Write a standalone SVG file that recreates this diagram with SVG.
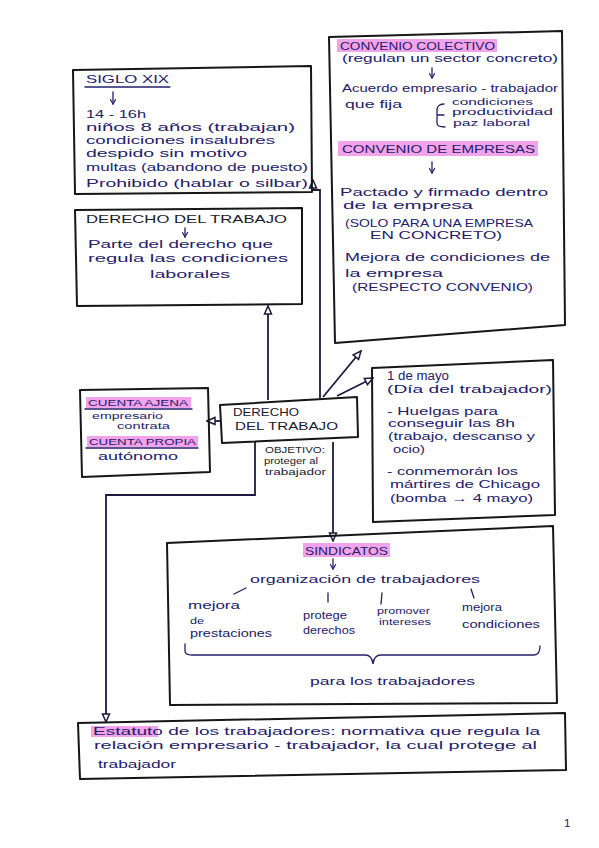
<svg xmlns="http://www.w3.org/2000/svg" width="599" height="848" viewBox="0 0 599 848">
<style>
.bg{fill:#ffffff}
.box{fill:none;stroke:#161616;stroke-width:2;stroke-linejoin:round}
.t{font-family:'Liberation Sans',Arial,sans-serif;fill:#23206a;font-size:11.5px}
.k{fill:#1a1a2e}
.s{font-size:9.5px}
.hl{fill:#f3a3ea}
.ln{fill:none;stroke:#23206a;stroke-width:1.3;stroke-linecap:round}
.cn{fill:none;stroke:#1b1b40;stroke-width:1.8}
</style>
<defs>
<marker id="arr" viewBox="0 0 10 10" refX="9" refY="5" markerWidth="10" markerHeight="10" markerUnits="userSpaceOnUse" orient="auto">
<path d="M1,1.5 L9,5 L1,8.5 Z" fill="#fff" stroke="#1b1b40" stroke-width="1.5"/>
</marker>
<marker id="sarr" viewBox="0 0 10 10" refX="8" refY="5" markerWidth="7" markerHeight="7" markerUnits="userSpaceOnUse" orient="auto">
<path d="M1,1 L8,5 L1,9" fill="none" stroke="#23206a" stroke-width="1.6"/>
</marker>
</defs>
<rect class="bg" x="0" y="0" width="599" height="848"/>

<g id="connectors">
<path class="cn" d="M320,398 V190 H313 V180" marker-end="url(#arr)"/>
<path class="cn" d="M268,400 V306" marker-end="url(#arr)"/>
<path class="cn" d="M323,397 L361,351" marker-end="url(#arr)"/>
<path class="cn" d="M337,396 L373,378" marker-end="url(#arr)"/>
<path class="cn" d="M220,421 H207" marker-end="url(#arr)"/>
<path class="cn" d="M333,442 V541" marker-end="url(#arr)"/>
<path class="cn" d="M255,442 V495 H106 V722" marker-end="url(#arr)"/>
</g>

<g id="siglo-xix">
<polygon class="box" points="73,70 311,66 312,192 75,194"/>
<text class="t" x="86" y="83" textLength="83" lengthAdjust="spacingAndGlyphs">SIGLO XIX</text>
<line class="ln" x1="85" y1="87" x2="170" y2="87"/>
<line class="ln" x1="113" y1="92" x2="113" y2="104" marker-end="url(#sarr)"/>
<text class="t" x="86" y="118" textLength="60" lengthAdjust="spacingAndGlyphs">14 - 16h</text>
<text class="t" x="86" y="131" textLength="209" lengthAdjust="spacingAndGlyphs">niños 8 años (trabajan)</text>
<text class="t" x="86" y="144" textLength="189" lengthAdjust="spacingAndGlyphs">condiciones insalubres</text>
<text class="t" x="86" y="157" textLength="161" lengthAdjust="spacingAndGlyphs">despido sin motivo</text>
<text class="t" x="86" y="171" textLength="222" lengthAdjust="spacingAndGlyphs">multas (abandono de puesto)</text>
<text class="t" x="86" y="187" textLength="222" lengthAdjust="spacingAndGlyphs">Prohibido (hablar o silbar)</text>
</g>

<g id="derecho-definicion">
<polygon class="box" points="75,210 302,208 302,304 77,306"/>
<text class="t k" x="86" y="223" textLength="201" lengthAdjust="spacingAndGlyphs">DERECHO DEL TRABAJO</text>
<line class="ln" x1="185" y1="228" x2="185" y2="237" marker-end="url(#sarr)"/>
<text class="t" x="88" y="248" textLength="185" lengthAdjust="spacingAndGlyphs">Parte del derecho que</text>
<text class="t" x="88" y="262" textLength="200" lengthAdjust="spacingAndGlyphs">regula las condiciones</text>
<text class="t" x="150" y="278" textLength="80" lengthAdjust="spacingAndGlyphs">laborales</text>
</g>

<g id="convenio">
<polygon class="box" points="329,37 562,31 565,325 335,343"/>
<rect class="hl" x="337" y="39" width="160" height="13"/>
<text class="t" x="340" y="50" textLength="155" lengthAdjust="spacingAndGlyphs">CONVENIO COLECTIVO</text>
<text class="t" x="342" y="62" textLength="216" lengthAdjust="spacingAndGlyphs">(regulan un sector concreto)</text>
<line class="ln" x1="432" y1="68" x2="432" y2="78" marker-end="url(#sarr)"/>
<text class="t" x="342" y="92" textLength="216" lengthAdjust="spacingAndGlyphs">Acuerdo empresario - trabajador</text>
<text class="t" x="345" y="108" textLength="57" lengthAdjust="spacingAndGlyphs">que fija</text>
<path class="ln" d="M444,104 C438,104 437,107 437,111 L437,123 C437,126 439,127 445,127 M437,115 L444,115"/>
<text class="t s" x="452" y="105" textLength="81" lengthAdjust="spacingAndGlyphs">condiciones</text>
<text class="t s" x="452" y="115" textLength="101" lengthAdjust="spacingAndGlyphs">productividad</text>
<text class="t s" x="453" y="126" textLength="77" lengthAdjust="spacingAndGlyphs">paz laboral</text>
<rect class="hl" x="338" y="141" width="200" height="15"/>
<text class="t" x="342" y="153" textLength="193" lengthAdjust="spacingAndGlyphs">CONVENIO DE EMPRESAS</text>
<line class="ln" x1="432" y1="162" x2="432" y2="173" marker-end="url(#sarr)"/>
<text class="t" x="340" y="196" textLength="208" lengthAdjust="spacingAndGlyphs">Pactado y firmado dentro</text>
<text class="t" x="343" y="209" textLength="130" lengthAdjust="spacingAndGlyphs">de la empresa</text>
<text class="t" x="345" y="227" textLength="188" lengthAdjust="spacingAndGlyphs">(SOLO PARA UNA EMPRESA</text>
<text class="t" x="370" y="239" textLength="132" lengthAdjust="spacingAndGlyphs">EN CONCRETO)</text>
<text class="t" x="345" y="261" textLength="205" lengthAdjust="spacingAndGlyphs">Mejora de condiciones de</text>
<text class="t" x="345" y="277" textLength="98" lengthAdjust="spacingAndGlyphs">la empresa</text>
<text class="t" x="352" y="291" textLength="181" lengthAdjust="spacingAndGlyphs">(RESPECTO CONVENIO)</text>
</g>

<g id="cuenta">
<polygon class="box" points="80,390 208,388 210,472 82,477"/>
<rect class="hl" x="86" y="397" width="105" height="11"/>
<text class="t s" x="88" y="406" textLength="100" lengthAdjust="spacingAndGlyphs">CUENTA AJENA</text>
<line class="ln" x1="85" y1="409" x2="192" y2="409"/>
<text class="t" style="font-size:8.5px" x="92" y="419" textLength="71" lengthAdjust="spacingAndGlyphs">empresario</text>
<text class="t" style="font-size:8.5px" x="117" y="429" textLength="53" lengthAdjust="spacingAndGlyphs">contrata</text>
<rect class="hl" x="87" y="436" width="111" height="11"/>
<text class="t s" x="89" y="445" textLength="107" lengthAdjust="spacingAndGlyphs">CUENTA PROPIA</text>
<line class="ln" x1="86" y1="448" x2="198" y2="448"/>
<text class="t" x="98" y="460" textLength="80" lengthAdjust="spacingAndGlyphs">autónomo</text>
</g>

<g id="derecho-trabajo">
<polygon class="box" points="220,405 357,397 358,437 222,443" fill="#fff"/>
<text class="t k" x="233" y="416" textLength="66" lengthAdjust="spacingAndGlyphs">DERECHO</text>
<text class="t k" x="235" y="430" textLength="103" lengthAdjust="spacingAndGlyphs">DEL TRABAJO</text>
<text class="t k s" x="265" y="453" textLength="60" lengthAdjust="spacingAndGlyphs">OBJETIVO:</text>
<text class="t k s" x="264" y="464" textLength="54" lengthAdjust="spacingAndGlyphs">proteger al</text>
<text class="t k s" x="265" y="475" textLength="61" lengthAdjust="spacingAndGlyphs">trabajador</text>
</g>

<g id="primero-mayo">
<polygon class="box" points="372,368 553,360 555,515 373,522"/>
<text class="t" style="font-size:12.5px" x="387" y="380" textLength="62" lengthAdjust="spacingAndGlyphs">1 de mayo</text>
<text class="t" x="387" y="393" textLength="165" lengthAdjust="spacingAndGlyphs">(Día del trabajador)</text>
<text class="t" x="387" y="415" textLength="111" lengthAdjust="spacingAndGlyphs">- Huelgas para</text>
<text class="t" x="388" y="427" textLength="127" lengthAdjust="spacingAndGlyphs">conseguir las 8h</text>
<text class="t" x="388" y="440" textLength="147" lengthAdjust="spacingAndGlyphs">(trabajo, descanso y</text>
<text class="t" x="393" y="453" textLength="32" lengthAdjust="spacingAndGlyphs">ocio)</text>
<text class="t" x="387" y="475" textLength="131" lengthAdjust="spacingAndGlyphs">- conmemorán los</text>
<text class="t" x="390" y="488" textLength="150" lengthAdjust="spacingAndGlyphs">mártires de Chicago</text>
<text class="t" x="390" y="502" textLength="143" lengthAdjust="spacingAndGlyphs">(bomba → 4 mayo)</text>
</g>

<g id="sindicatos">
<polygon class="box" points="167,543 553,526 557,703 170,705"/>
<rect class="hl" x="303" y="543" width="87" height="14"/>
<text class="t" x="305" y="555" textLength="83" lengthAdjust="spacingAndGlyphs">SINDICATOS</text>
<line class="ln" x1="333" y1="559" x2="333" y2="569" marker-end="url(#sarr)"/>
<text class="t" x="250" y="583" textLength="230" lengthAdjust="spacingAndGlyphs">organización de trabajadores</text>
<line class="ln" x1="234" y1="594" x2="246" y2="588"/>
<line class="ln" x1="328" y1="593" x2="328" y2="602"/>
<line class="ln" x1="382" y1="593" x2="381" y2="604"/>
<line class="ln" x1="471" y1="589" x2="474" y2="598"/>
<text class="t" x="188" y="609" textLength="52" lengthAdjust="spacingAndGlyphs">mejora</text>
<text class="t s" x="190" y="624" textLength="14" lengthAdjust="spacingAndGlyphs">de</text>
<text class="t" x="190" y="637" textLength="82" lengthAdjust="spacingAndGlyphs">prestaciones</text>
<text class="t" x="303" y="619" textLength="44" lengthAdjust="spacingAndGlyphs">protege</text>
<text class="t" x="303" y="634" textLength="52" lengthAdjust="spacingAndGlyphs">derechos</text>
<text class="t s" x="377" y="614" textLength="53" lengthAdjust="spacingAndGlyphs">promover</text>
<text class="t s" x="379" y="625" textLength="52" lengthAdjust="spacingAndGlyphs">intereses</text>
<text class="t" x="462" y="611" textLength="40" lengthAdjust="spacingAndGlyphs">mejora</text>
<text class="t" x="462" y="628" textLength="78" lengthAdjust="spacingAndGlyphs">condiciones</text>
<path class="ln" d="M185,644 V651 Q185,655 192,655 H365 Q372,655 373,664 Q374,655 381,655 H534 Q540,655 540,646"/>
<text class="t" x="310" y="685" textLength="165" lengthAdjust="spacingAndGlyphs">para los trabajadores</text>
</g>

<g id="estatuto">
<polygon class="box" points="78,723 565,713 566,770 80,779"/>
<rect class="hl" x="91" y="726" width="67" height="11"/>
<text class="t" x="93" y="735" textLength="447" lengthAdjust="spacingAndGlyphs">Estatuto de los trabajadores: normativa que regula la</text>
<text class="t" x="94" y="749" textLength="443" lengthAdjust="spacingAndGlyphs">relación empresario - trabajador, la cual protege al</text>
<text class="t" x="98" y="768" textLength="78" lengthAdjust="spacingAndGlyphs">trabajador</text>
</g>

<text class="t" x="564" y="827">1</text>
</svg>
